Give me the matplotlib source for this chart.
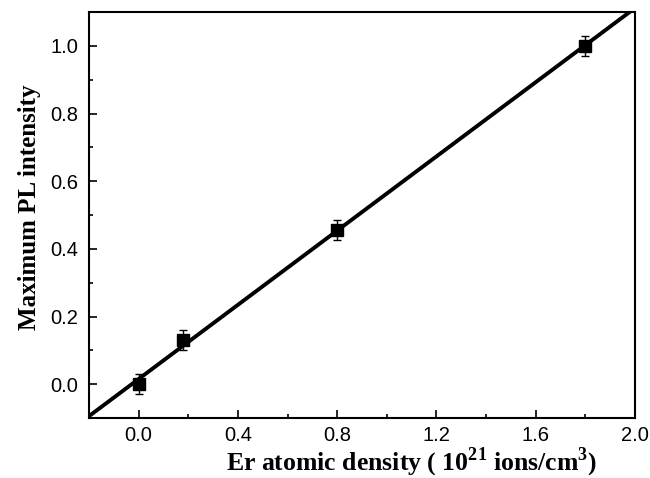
import numpy as np
import matplotlib.pyplot as plt
from matplotlib.ticker import MultipleLocator

plt.rcParams['mathtext.fontset'] = 'custom'
plt.rcParams['mathtext.rm'] = 'Liberation Serif:bold'

# data
density = [0.0, 0.18, 0.80, 1.80]          # 10^21 ions/cm^3
intensity = [0.0, 0.13, 0.455, 1.0]
err = [0.03, 0.03, 0.03, 0.03]

x_ticks = [0.0, 0.4, 0.8, 1.2, 1.6, 2.0]
y_ticks = [0.0, 0.2, 0.4, 0.6, 0.8, 1.0]

# linear fit through the points
slope, intercept = np.polyfit(density, intensity, 1)
xfit = np.array([-0.2, 2.0])

fig = plt.figure(figsize=(6.5, 4.78), dpi=100)
ax = fig.add_axes([89/650, 60/478, 546/650, 406/478])

ax.plot(xfit, slope*xfit + intercept, color='black', lw=2.8, zorder=2)
ax.errorbar(density, intensity, yerr=err, fmt='s', color='black', ms=8.5,
            ecolor='black', elinewidth=1, capsize=3, capthick=1, zorder=3)

ax.set_xlim(-0.2, 2.0)
ax.set_ylim(-0.1, 1.1)
ax.set_xticks(x_ticks)
ax.set_yticks(y_ticks)
ax.set_xticklabels([f"{v:.1f}" for v in x_ticks])
ax.set_yticklabels([f"{v:.1f}" for v in y_ticks])
ax.xaxis.set_minor_locator(MultipleLocator(0.2))
ax.yaxis.set_minor_locator(MultipleLocator(0.1))
ax.tick_params(which='both', direction='in', top=False, right=False, width=1.2)
ax.tick_params(which='major', length=6, labelsize=14.5)
ax.tick_params(axis='x', which='major', pad=6)
ax.tick_params(axis='y', which='major', pad=8)
ax.tick_params(which='minor', length=3)
for lab in ax.get_xticklabels() + ax.get_yticklabels():
    lab.set_family('Liberation Sans')
for s in ax.spines.values():
    s.set_linewidth(1.5)

ax.set_xlabel(r'Er atomic density ( 10$^{\mathrm{21}}$ ions/cm$^{\mathrm{3}}$)',
              family='Liberation Serif', fontweight='bold', fontsize=18.5)
ax.xaxis.set_label_coords(0.59, -0.069)
ax.set_ylabel('Maximum PL intensity', family='Liberation Serif',
              fontweight='bold', fontsize=18)
ax.yaxis.set_label_coords(-0.088, 0.52)

fig.savefig('out.png', dpi=100)
